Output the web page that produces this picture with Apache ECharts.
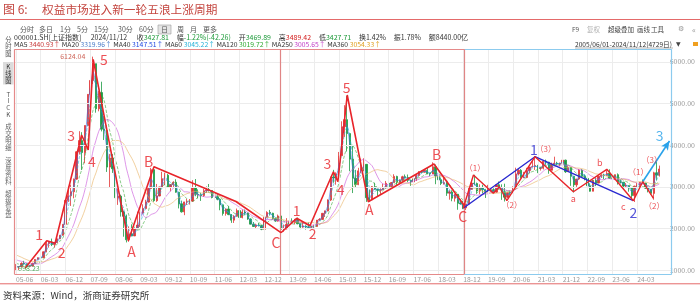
<!DOCTYPE html>
<html><head><meta charset="utf-8">
<script src="https://cdn.jsdelivr.net/npm/echarts@6/dist/echarts.min.js"></script>
<style>html,body{margin:0;padding:0;background:#fff}#c{width:700px;height:302px}</style>
</head><body><div id="c"></div>
<script>
// ---------------- data (monthly, SSE Composite 2005-06 .. 2024-11) ----------------
const preClose = [1590.7,1675.1,1741.6,1595.6,1555.9,1399.2,1386.2,1342.1,1396.7,1320.5,1340.8,1266.5,1191.8,1306.0,1181.2,1159.2,1060.7];
const closeM = [
1080.9,1083.0,1162.8,1155.6,1092.8,1099.3,1161.1,
1258.0,1299.0,1298.3,1440.2,1641.3,1672.2,1612.7,1658.6,1752.4,1837.9,2099.3,2675.5,
2786.3,2881.1,3183.9,3841.3,4109.7,3820.7,4471.0,5218.8,5552.3,5954.8,4871.8,5261.6,
4383.4,4348.5,3472.7,3693.1,3433.4,2736.1,2775.7,2397.4,2293.8,1728.8,1871.2,1820.8,
1990.7,2082.9,2373.2,2477.6,2632.9,2959.4,3412.1,2667.7,2779.4,2995.9,3195.3,3277.1,
2989.3,3051.9,3109.1,2870.6,2592.2,2398.4,2637.5,2638.8,2655.7,2978.8,2820.2,2808.1,
2790.7,2905.1,2928.1,2911.5,2743.5,2762.1,2701.7,2567.3,2359.2,2468.3,2333.4,2199.4,
2292.6,2428.5,2262.8,2396.3,2372.2,2225.4,2103.6,2047.5,2086.2,2068.9,1980.1,2269.1,
2385.4,2365.6,2236.6,2177.9,2300.6,1979.2,1993.8,2098.4,2174.7,2141.6,2220.5,2116.0,
2033.1,2056.3,2033.3,2026.4,2039.2,2048.3,2201.6,2217.2,2363.9,2420.2,2682.8,3234.7,
3210.4,3310.3,3747.9,4441.7,4611.7,4277.2,3663.7,3206.0,3052.8,3382.6,3445.4,3539.2,
2737.6,2688.0,3003.9,2938.3,2917.0,2929.6,2979.3,3085.5,3004.7,3100.5,3250.0,3103.6,
3159.2,3241.7,3222.5,3154.7,3117.2,3192.4,3273.0,3360.8,3348.9,3393.3,3317.2,3307.2,
3480.8,3259.4,3168.9,3082.2,3095.5,2847.4,2876.4,2725.3,2821.4,2602.8,2588.2,2493.9,
2584.6,2940.9,3090.8,3078.3,2898.7,2978.9,2932.5,2886.2,2905.2,2929.1,2872.0,3050.1,
2976.5,2880.3,2750.3,2860.1,2852.4,2984.7,3310.0,3395.7,3218.1,3224.5,3391.8,3473.1,
3483.1,3509.1,3441.9,3446.9,3615.5,3591.2,3397.4,3543.9,3568.2,3547.3,3563.9,3639.8,
3361.4,3462.3,3252.2,3047.1,3186.4,3398.6,3253.2,3202.1,3024.4,2893.5,3151.3,3089.3,
3255.7,3279.6,3272.9,3323.3,3204.6,3202.1,3291.0,3119.9,3110.5,3018.8,3029.7,2975.0,
2788.6,3015.2,3041.2,3104.8,3086.8,2967.4,2938.8,2842.2,3336.5,3279.8,3427.8];
const highM = [
1146,1085,1188,1223,1157,1122,1178,
1264,1305,1305,1445,1688,1690,1757,1673,1752,1840,2099,2698,
3010,3049,3198,3849,4335,4311,4472,5220,5562,6124,5915,5303,
5522,4695,4472,3786,3786,3458,2952,2810,2421,2333,2050,2100,
2011,2403,2408,2580,2688,2987,3454,3478,3069,3003,3361,3339,
3306,3063,3134,3181,2848,2668,2640,2707,2707,3159,3186,2938,
2857,2948,3009,3067,2916,2777,2826,2725,2571,2476,2536,2347,
2319,2478,2476,2454,2453,2381,2242,2155,2114,2133,2090,2276,
2413,2445,2377,2262,2334,2314,2092,2248,2270,2243,2229,2260,
2115,2177,2077,2146,2061,2089,2203,2248,2367,2429,2700,3239,
3406,3347,3836,4572,4958,5178,4184,4007,3407,3456,3678,3684,
3539,2934,3018,3098,2953,2964,3070,3140,3102,3115,3301,3265,
3174,3265,3295,3295,3155,3196,3306,3374,3392,3418,3450,3310,
3587,3534,3335,3220,3219,3124,2916,2916,2828,2827,2703,2665,
2597,2997,3129,3288,3102,3060,3049,2941,3047,2996,2964,3069,
3127,3059,3074,2860,2910,3012,3458,3426,3425,3359,3456,3474,
3637,3732,3528,3481,3625,3653,3599,3581,3723,3600,3582,3709,
3651,3512,3480,3252,3187,3424,3423,3297,3251,3081,3166,3226,
3270,3309,3313,3396,3419,3255,3295,3322,3172,3116,3088,3034,
2976,3027,3091,3116,3175,3095,2998,2946,3361,3600,3509];
const lowM = [
998,1004,1080,1130,1069,1074,1093,
1163,1255,1257,1299,1429,1541,1578,1541,1657,1752,1828,2047,
2636,2541,2723,3173,3777,3404,3563,4494,5128,5463,4779,4812,
4330,4123,3357,2990,3333,2653,2566,2284,1802,1665,1679,1814,
1844,1989,2037,2350,2461,2622,2949,2640,2639,2774,2990,3039,
2986,2890,2980,2858,2481,2382,2319,2562,2573,2644,2774,2721,
2661,2758,2853,2886,2723,2610,2676,2437,2308,2307,2319,2134,
2132,2282,2243,2242,2329,2207,2100,2037,2002,2049,1959,1949,
2264,2311,2220,2161,2164,1849,1920,1976,2087,2125,2100,2098,
1984,2015,1974,1991,1991,2010,2036,2190,2210,2275,2412,2658,
3096,3050,3275,3747,4198,3847,3373,2850,2983,3039,3327,3370,
2638,2638,2733,2928,2781,2807,2929,2953,2969,3005,3104,3044,
3089,3130,3199,3111,3023,3082,3140,3246,3323,3343,3302,3255,
3310,3062,3091,3041,3052,2782,2691,2653,2644,2449,2578,2463,
2441,2578,2934,3044,2838,2823,2841,2733,2883,2886,2857,2857,
2955,2686,2647,2731,2794,2856,3004,3272,3202,3209,3207,3325,
3474,3404,3328,3390,3416,3528,3313,3413,3530,3515,3489,3546,
3333,3357,3023,2863,2997,3161,3229,3155,3021,2885,2896,3017,
3086,3213,3184,3257,3195,3141,3161,3053,3078,2923,2993,2882,
2725,2635,2992,2995,3083,2953,2866,2815,2690,3152,3245];
const xTickLabels = ['05-06','06-03','06-12','07-09','08-06','09-03','09-12','10-09','11-06','12-03','12-12','13-09','14-06','15-03','15-12','16-09','17-06','18-03','18-12','19-09','20-06','21-03','21-12','22-09','23-06','24-03'];
const yTicks = [1000,2000,3000,4000,5000,6000];
// MA periods expressed in months (daily 40/60/120/250/360 days)
const maDefs = [['MA40',2,'#3a66e0','solid'],['MA60',3,'#22b4d8','dashed'],['MA120',6,'#3aaa3a','dashed'],['MA250',12,'#c850d8','solid'],['MA360',18,'#e8b060','solid']];
// Elliott-wave annotation points [monthIndex, index level]
const waveRed1 = [[3.3,1044],[11.2,1706],[14.2,1644],[23.8,4243],[26.2,3883],[28.0,6060],[40.7,1706],[50.0,3482],[79.7,2647],[96.0,1898]];
const waveRed2 = [[96.0,1898],[101.7,2244],[106.5,2066],[115.0,3362],[116.6,3122],[120.0,5203],[127.6,2642],[151.4,3547],[162.7,2522]];
const waveRed3 = [[162.0,2484],[165.7,3283],[172.9,2843],[175.1,3002],[177.8,2666],[188.0,3722],[201.9,2882],[214.0,3420],[223.6,2666],[227.0,3122],[230.9,2724]];
const waveBlue = [[162.0,2484],[188.0,3722],[223.6,2666]];
const arrow3 = [[227.0,3122],[236.7,4099]];
const dividers = [95.9,162.3];
const labelsBig = [['1',8.4,1860],['2',16.6,1418],['3',20.0,4219],['4',27.5,3602],['5',31.9,6043],['A',41.9,1442],['B',48.1,3602],['C',94.2,1658],['1',101.7,2426],['2',107.5,1867],['3',112.8,3547],['4',117.6,2923],['5',119.8,5378],['A',128.0,2443],['B',152.4,3763],['C',161.8,2282]];
const labelsBlue = [['1',187.6,3899],['2',223.6,2378]];
const labelsLight = [['3',233.1,4219]];
const labelsSmall = [['（1）',166.3,3444],['（2）',179.6,2563],['（3）',191.9,3899],['（1）',225.4,3362],['（3）',230.3,3643],['（2）',231.2,2539]];
const labelsLetter = [['a',201.9,2724],['b',211.5,3578],['c',220.0,2522]];
const extremeLabels = [['6124.04',20.6,6139,'#c0392b'],['998.23',4.75,1039,'#2a9a3a']];

// ---------------- build ----------------
const N = 238;
const categories = [];
for (let i = 0; i < N; i++) {
  const m = 5 + i, y = 2005 + Math.floor(m / 12), mm = m % 12 + 1;
  categories.push(String(y).slice(2) + '-' + String(mm).padStart(2, '0'));
}
const candles = categories.map((c, i) => {
  if (i >= closeM.length) return '-';
  const o = i === 0 ? preClose[preClose.length - 1] : closeM[i - 1];
  const cl = closeM[i];
  return [o, cl, Math.min(lowM[i], o, cl), Math.max(highM[i], o, cl)];
});
const full = preClose.concat(closeM);
function ma(n) {
  return categories.map((c, i) => {
    if (i >= closeM.length) return '-';
    const k = i + preClose.length;
    if (k - n + 1 < 0) return '-';
    let s = 0; for (let j = k - n + 1; j <= k; j++) s += full[j];
    return +(s / n).toFixed(2);
  });
}
const FONT = '"Noto Sans CJK SC","Noto Sans",sans-serif';
const G = {left: 14.5, right: 28.3, top: 49.3, bottom: 27.7};
const XMIN = -0.5, XMAX = N - 0.5, YMIN = 900, YMAX = 6300;

function labelSeries(list, color, size, weight) {
  return {
    type: 'scatter', xAxisIndex: 1, yAxisIndex: 0, symbolSize: 1, z: 8, silent: true,
    itemStyle: {color: 'rgba(0,0,0,0)'},
    data: list.map(d => ({value: [d[1], d[2]], label: {show: true, position: 'inside', formatter: d[0],
      color: d[3] || color, fontSize: size, fontFamily: FONT, fontWeight: weight || 'normal'}}))
  };
}
function waveSeries(pts, color, w) {
  return {type: 'line', xAxisIndex: 1, yAxisIndex: 0, data: pts, symbol: 'none', z: 6, silent: true,
    lineStyle: {color: color, width: w}, animation: false};
}

const series = [];
// grid lines
series.push({type: 'line', xAxisIndex: 1, yAxisIndex: 0, data: [], z: 0, silent: true,
  markLine: {silent: true, symbol: 'none', label: {show: false}, animation: false,
    lineStyle: {color: '#ececec', width: 1, type: 'solid'},
    data: xTickLabels.map(l => ({xAxis: categories.indexOf(l)})).concat(yTicks.map(v => ({yAxis: v})))}});
series.push({type: 'candlestick', xAxisIndex: 0, yAxisIndex: 0, data: candles, barWidth: 1.8, z: 3,
  itemStyle: {color: '#e23535', color0: '#1c9a42', borderColor: '#e23535', borderColor0: '#1c9a42', borderWidth: 0.8}});
maDefs.forEach(d => series.push({type: 'line', xAxisIndex: 0, yAxisIndex: 0, name: d[0], data: ma(d[1]),
  symbol: 'none', smooth: 0.3, z: 4, silent: true, lineStyle: {color: d[2], width: 0.8, type: d[3], opacity: 0.75}}));
series.push(waveSeries(waveRed1, '#e8242a', 1.6));
series.push(waveSeries(waveRed2, '#e8242a', 1.6));
series.push(waveSeries(waveBlue, '#2a2ad0', 1.4));
series.push(waveSeries(waveRed3, '#e8242a', 1.4));
// frame, dividers, arrow
const divX = dividers[1];
series.push({type: 'line', xAxisIndex: 1, yAxisIndex: 0, data: [], z: 9, silent: true,
  markLine: {silent: true, symbol: 'none', label: {show: false}, animation: false,
    data: [
      [{coord: [XMIN, YMAX], lineStyle: {color: '#e58a8a', width: 1.2, type: 'solid'}}, {coord: [divX, YMAX]}],
      [{coord: [XMIN, YMIN], lineStyle: {color: '#e58a8a', width: 1.2, type: 'solid'}}, {coord: [divX, YMIN]}],
      [{coord: [divX, YMAX], lineStyle: {color: '#8ccbee', width: 1.2, type: 'solid'}}, {coord: [XMAX, YMAX]}],
      [{coord: [divX, YMIN], lineStyle: {color: '#8ccbee', width: 1.2, type: 'solid'}}, {coord: [XMAX, YMIN]}],
      [{coord: [XMIN, YMIN], lineStyle: {color: '#e58a8a', width: 1.2, type: 'solid'}}, {coord: [XMIN, YMAX]}],
      [{coord: [XMAX, YMIN], lineStyle: {color: '#8ccbee', width: 1.2, type: 'solid'}}, {coord: [XMAX, YMAX]}],
      [{coord: [dividers[0], YMIN], lineStyle: {color: '#e08585', width: 1.2, type: 'solid'}}, {coord: [dividers[0], YMAX]}],
      [{coord: [dividers[1], YMIN], lineStyle: {color: '#e08585', width: 1.2, type: 'solid'}}, {coord: [dividers[1], YMAX]}]
    ]}});
series.push({type: 'line', xAxisIndex: 1, yAxisIndex: 0, data: [], z: 7, silent: true,
  markLine: {silent: true, symbol: ['none', 'arrow'], symbolSize: [6, 9], label: {show: false}, animation: false,
    lineStyle: {color: '#2aa2ea', width: 1.6, type: 'solid'},
    data: [[{coord: arrow3[0]}, {coord: arrow3[1]}]]}});
series.push(labelSeries(labelsBig, '#e8242a', 14));
series.push(labelSeries(labelsBlue, '#2a2ad0', 14));
series.push(labelSeries(labelsLight, '#2aa2ea', 14));
series.push(labelSeries(labelsSmall, '#e8242a', 8));
series.push(labelSeries(labelsLetter, '#e8242a', 9));
series.push(labelSeries(extremeLabels, '#c0392b', 7));

// ---------------- header graphics ----------------
const gfx = [];
function txt(x, y, text, size, color, align, family) {
  gfx.push({type: 'text', x: x, y: y, silent: true, style: {text: text, fontSize: size, fontFamily: family || FONT,
    fill: color, textAlign: align || 'left', align: align || 'left', textVerticalAlign: 'middle', verticalAlign: 'middle'}});
}
function line(x1, y1, x2, y2, color, w) {
  gfx.push({type: 'line', silent: true, shape: {x1, y1, x2, y2}, style: {stroke: color, lineWidth: w}});
}
txt(3, 9.5, '图 6:', 12, '#c4453f');
txt(42, 9.5, '权益市场进入新一轮五浪上涨周期', 11.7, '#c4453f');
line(0, 19.5, 700, 19.5, '#e46a6a', 1);
// toolbar row
gfx.push({type: 'rect', silent: true, shape: {x: 158, y: 25, width: 13, height: 9}, style: {fill: '#e4e4e4', stroke: '#9a9a9a', lineWidth: 0.6}});
[['分时',20],['多日',39],['1分',60],['5分',77],['15分',94],['30分',118],['60分',139],['日',161],['周',177],['月',190],['更多',203]]
  .forEach(d => txt(d[1], 29.5, d[0], 7, '#555'));
[['F9',572,'#555'],['复权',587,'#b0b0b0'],['超级叠加',608,'#444'],['画线',637,'#444'],['工具',651,'#444']]
  .forEach(d => txt(d[1], 29.5, d[0], 6.5, d[2]));
txt(678, 29.5, '⚙', 7, '#999', 'left', 'DejaVu Sans');
txt(692, 29.5, '«', 8, '#999');
// quote row
const rich = {k: {fill: '#333', color: '#333', fontSize: 7, fontFamily: FONT}, g: {fill: '#1e9a3a', color: '#1e9a3a', fontSize: 7, fontFamily: FONT},
  r: {fill: '#d42020', color: '#d42020', fontSize: 7, fontFamily: FONT}};
gfx.push({type: 'text', x: 14, y: 37.3, silent: true, style: {rich: rich, textVerticalAlign: 'middle', verticalAlign: 'middle',
  text: '{k|000001.SH[上证指数]      2024/11/12      收}{g|3427.81}{k|     幅}{g|-1.22%(-42.26)}{k|     开}{g|3469.89}{k|     高}{r|3489.42}{k|     低}{g|3427.71}{k|     换1.42%     振1.78%     额8440.00亿}'}});
const rich2 = {k: {fill: '#333', fontSize: 6.8, fontFamily: FONT}, a: {fill: '#c83a3a', fontSize: 6.8, fontFamily: FONT},
  b: {fill: '#4a7cc8', fontSize: 6.8, fontFamily: FONT}, c: {fill: '#2048e0', fontSize: 6.8, fontFamily: FONT},
  d: {fill: '#22b0d8', fontSize: 6.8, fontFamily: FONT}, e: {fill: '#2ea830', fontSize: 6.8, fontFamily: FONT},
  f: {fill: '#c040c8', fontSize: 6.8, fontFamily: FONT}, h: {fill: '#e0a020', fontSize: 6.8, fontFamily: FONT}};
gfx.push({type: 'text', x: 14, y: 44.2, silent: true, style: {rich: rich2, textVerticalAlign: 'middle', verticalAlign: 'middle',
  text: '{k|MA5 }{a|3440.93↑}{k| MA20 }{b|3319.96↑}{k| MA40 }{c|3147.51↑}{k| MA60 }{d|3045.22↑}{k| MA120 }{e|3019.72↑}{k| MA250 }{f|3005.65↑}{k| MA360 }{h|3054.33↑}'}});
txt(575, 44.2, '2005/06/01-2024/11/12(4729日)', 6.6, '#333');
line(575, 48, 673, 48, '#666', 0.5);
txt(676, 44.2, '▼', 6, '#444', 'left', 'DejaVu Sans');
gfx.push({type: 'rect', silent: true, shape: {x: 693, y: 42, width: 5, height: 4}, style: {fill: '#f0a020'}});
// side tabs (one glyph per line)
gfx.push({type: 'rect', silent: true, shape: {x: 3, y: 62, width: 10.5, height: 22.5}, style: {fill: '#dcdcdc'}});
const sideTabs = [['分时图', 39.5, 7, '#555'], ['K线图', 66.5, 7.3, '#333'], ['TICK', 94.5, 6.6, '#555'],
  ['成交明细', 126.5, 7, '#666'], ['深度资料', 160.5, 7, '#666'], ['超级复盘', 193.5, 7, '#666']];
sideTabs.forEach(t => Array.from(t[0]).forEach((ch, j) => txt(8.3, t[1] + j * t[2], ch, 6.3, t[3], 'center')));
// footer
line(0, 283.8, 700, 283.8, '#e46a6a', 1);
txt(3, 295.5, '资料来源：Wind，浙商证券研究所', 9.5, '#333');

const chart = echarts.init(document.getElementById('c'), null, {renderer: 'canvas'});
chart.setOption({
  animation: false,
  backgroundColor: '#fff',
  grid: {left: G.left, right: G.right, top: G.top, bottom: G.bottom, containLabel: false},
  xAxis: [
    {type: 'category', data: categories, boundaryGap: true, axisLine: {show: false}, axisTick: {show: false}, splitLine: {show: false},
      axisLabel: {interval: 0, align: 'left', fontSize: 6.8, color: '#999', margin: 2, fontFamily: FONT,
        formatter: v => xTickLabels.indexOf(v) >= 0 && categories.indexOf(v) % 9 === 0 ? v : ''}},
    {type: 'value', min: XMIN, max: XMAX, show: false}
  ],
  yAxis: {type: 'value', position: 'right', min: YMIN, max: YMAX, interval: 100, scale: false,
    axisLine: {show: false}, axisTick: {show: false}, splitLine: {show: false},
    axisLabel: {margin: -2, fontSize: 7, color: '#999', fontFamily: FONT,
      formatter: v => (yTicks.indexOf(v) >= 0 ? v.toFixed(2) : '')}},
  series: series,
  graphic: gfx
});
</script></body></html>
